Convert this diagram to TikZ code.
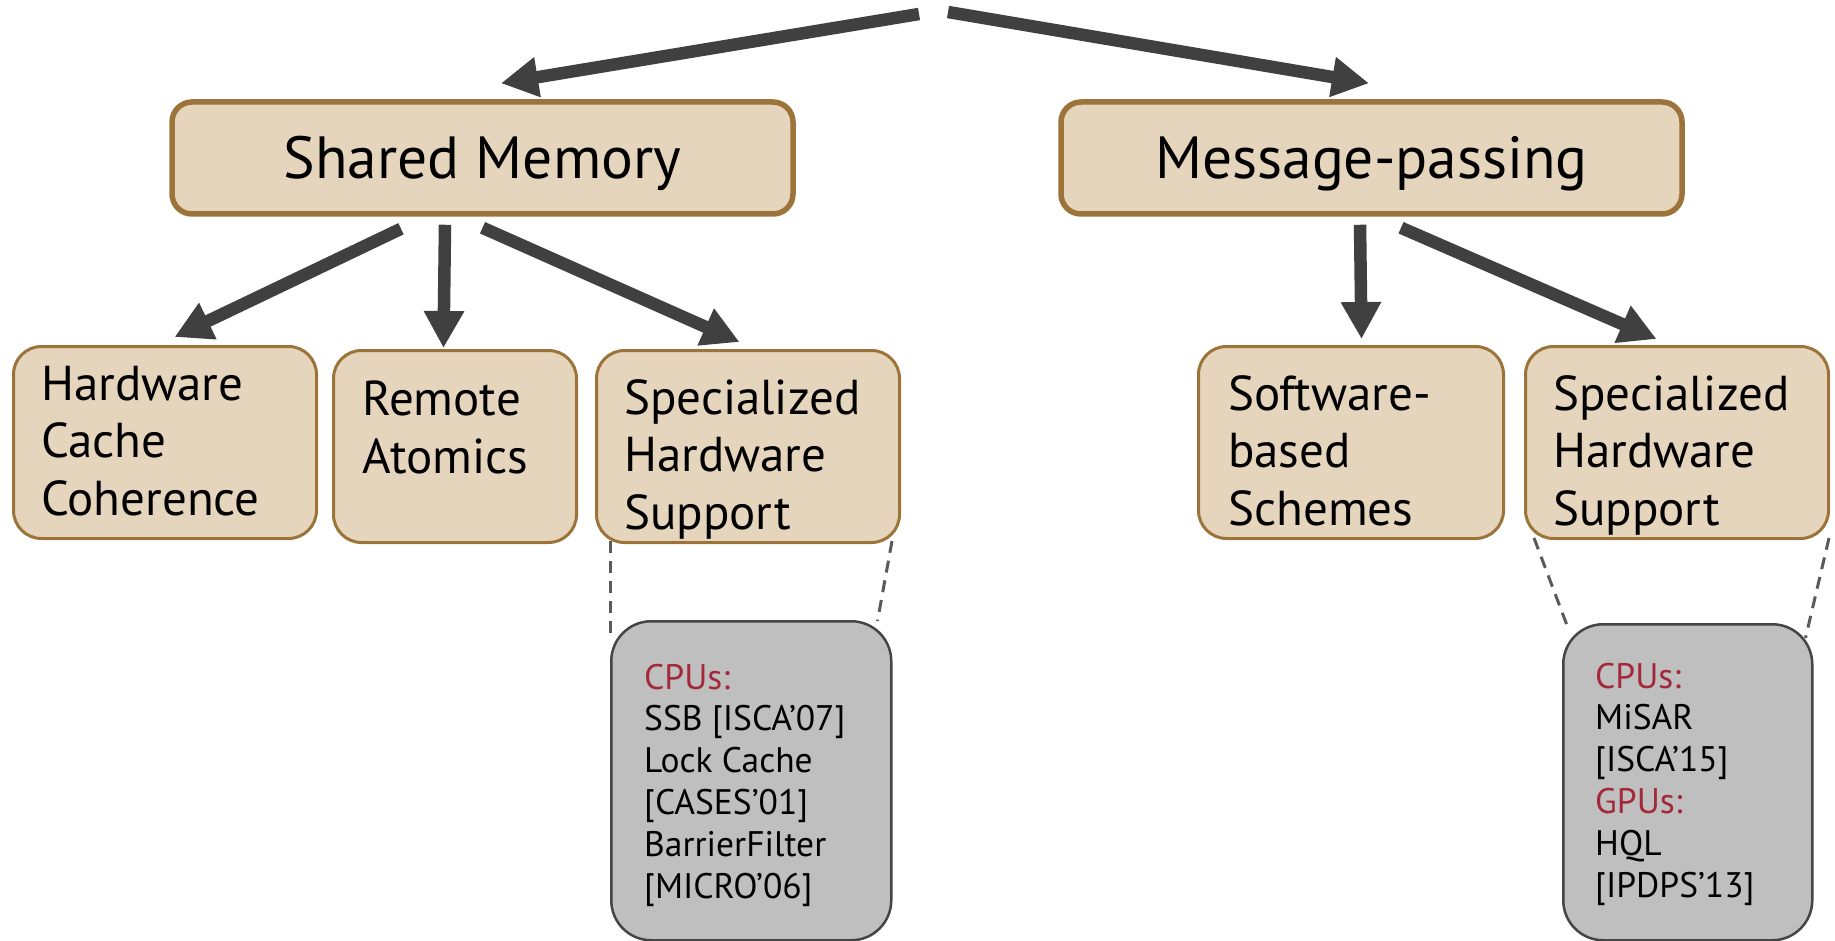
\documentclass[tikz,border=0pt]{standalone}
\usepackage{fontspec}
\setmainfont{PT Sans}
\usetikzlibrary{arrows.meta}
\definecolor{tanfill}{HTML}{E5D5BC}
\definecolor{tanedge}{HTML}{9C7439}
\definecolor{arrowgray}{HTML}{404040}
\definecolor{notefill}{HTML}{BFBFBF}
\definecolor{noteedge}{HTML}{454545}
\definecolor{notered}{HTML}{A3293A}
\definecolor{dashgray}{HTML}{5A5A5A}
\begin{document}
\begin{tikzpicture}[x=1pt,y=-1pt,
  hdrbox/.style={draw=tanedge, fill=tanfill, line width=5.5pt, rounded corners=20pt,
    minimum width=621pt, minimum height=112pt, inner sep=0pt,
    font=\fontsize{59.5}{60}\selectfont, text height=42pt, text depth=0pt},
  catbox/.style={draw=tanedge, fill=tanfill, line width=3pt, rounded corners=28pt,
    inner sep=0pt, anchor=north west},
  % multi-line labels are placed by the baseline of their last line
  cattext/.style={font=\fontsize{49}{57.5}\selectfont, align=left, anchor=base west, inner sep=0pt},
  notebox/.style={draw=noteedge, fill=notefill, line width=2.5pt, rounded corners=40pt,
    inner sep=0pt, anchor=north west},
  notetext/.style={font=\fontsize{35.5}{41.8}\selectfont, align=left, anchor=base west, inner sep=0pt},
  arr/.style={draw=arrowgray, line width=12.5pt, -{Triangle[length=37pt,width=38pt]}},
  link/.style={draw=dashgray, line width=3pt, dash pattern=on 12pt off 8pt},
]
\useasboundingbox (0,0) rectangle (1835,941);

% top-level categories
\node[hdrbox] (sm) at (482.5,158) {Shared Memory};
\node[hdrbox] (mp) at (1371.5,158) {Message-passing};

% shared-memory branches
\node[catbox, minimum width=303pt, minimum height=192pt] (hcc) at (12,345) {};
\node[cattext] (hcct) at (41,515) {Hardware\\Cache\\Coherence};
\node[catbox, minimum width=243pt, minimum height=192pt] (ra) at (332,349) {};
\node[cattext] (rat) at (362,473) {Remote\\Atomics};
\node[catbox, minimum width=303pt, minimum height=192pt] (shsl) at (595,349) {};
\node[cattext] (shslt) at (624,529) {Specialized\\Hardware\\Support};

% message-passing branches
\node[catbox, minimum width=305pt, minimum height=192pt] (sbs) at (1197,345) {};
\node[cattext] (sbst) at (1228,525) {Software-\\based\\Schemes};
\node[catbox, minimum width=303pt, minimum height=192pt] (shsr) at (1524,345) {};
\node[cattext] (shsrt) at (1553,525) {Specialized\\Hardware\\Support};

% example designs
\node[notebox, minimum width=280pt, minimum height=319pt] (notel) at (610,620) {};
\node[notebox, minimum width=249pt, minimum height=316pt] (noter) at (1562,623) {};

% zoom-out guides (behind the example boxes' text)
\begin{scope}
\draw[link] ([shift={(15,-3)}]shsl.south west) -- ([shift={(0,18)}]notel.north west);
\draw[link] ([shift={(-9,-3)}]shsl.south east) -- ([shift={(-15,1)}]notel.north east);
\draw[link] ([shift={(10,-2)}]shsr.south west) -- ([shift={(6,5)}]noter.north west);
\draw[link] ([shift={(-1,-2)}]shsr.south east) -- ([shift={(-8,15)}]noter.north east);
\end{scope}

\node[notetext] (notelt) at (644,898) {\textcolor{notered}{CPUs:}\\SSB [ISCA’07]\\Lock Cache\\{}[CASES’01]\\BarrierFilter\\{}[MICRO’06]};
\node[notetext] (notert) at (1595,897) {\textcolor{notered}{CPUs:}\\MiSAR\\{}[ISCA’15]\\\textcolor{notered}{GPUs:}\\HQL\\{}[IPDPS’13]};

% arrows
\coordinate (rootl) at (919,14);
\coordinate (rootr) at (948,12);
\draw[arr] (rootl) -- ([shift={(18.5,-16)}]sm.north);
\draw[arr] (rootr) -- ([shift={(-2.5,-16)}]mp.north);
\draw[arr] ([shift={(-81.5,12)}]sm.south) -- ([shift={(9.5,-8)}]hcc.north);
\draw[arr] ([shift={(-37.5,8)}]sm.south) -- ([shift={(-11.5,-1)}]ra.north);
\draw[arr] ([shift={(0,11)}]sm.south) -- ([shift={(-8.5,-7)}]shsl.north);
\draw[arr] ([shift={(-11.5,8)}]mp.south) -- ([shift={(10.5,-6)}]sbs.north);
\draw[arr] ([shift={(29.5,11)}]mp.south) -- ([shift={(-20.5,-6)}]shsr.north);
\end{tikzpicture}
\end{document}
